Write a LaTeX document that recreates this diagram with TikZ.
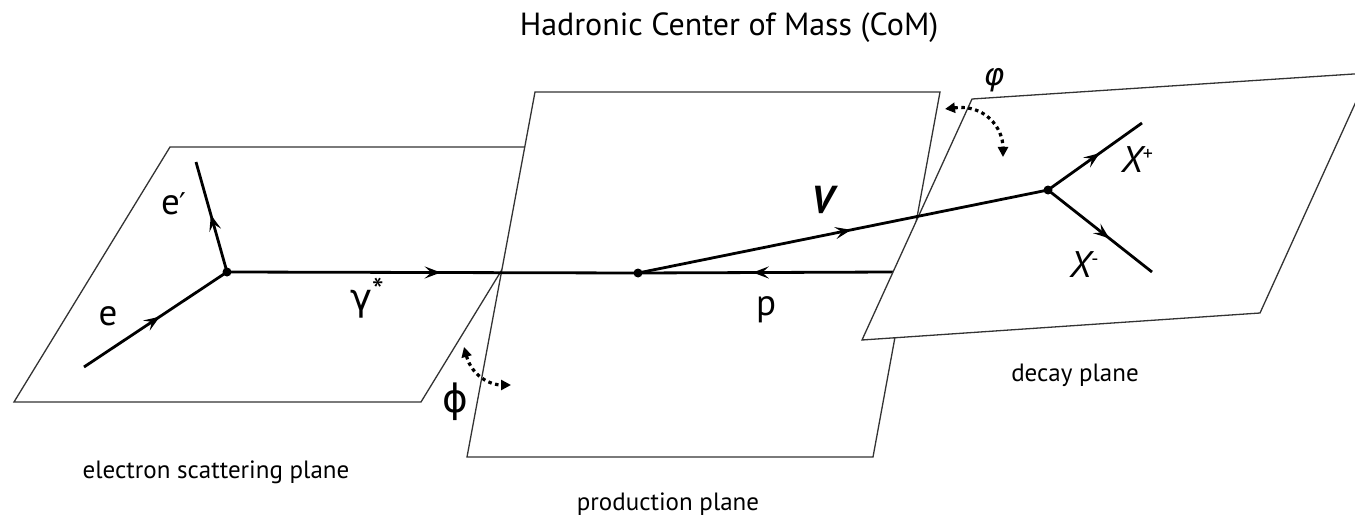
\documentclass[tikz,border=0pt]{standalone}
\usepackage{fontspec}
\setmainfont{PT Sans}
\newfontfamily\grk{DejaVu Sans}
\usetikzlibrary{arrows.meta,decorations.markings}
\tikzset{
  plane/.style={draw=black!80, line width=1.3pt, fill=white, line join=miter},
  particle/.style={line width=2.8pt},
  midarrow/.style={postaction={decorate}, decoration={markings, mark=at position #1 with {\arrow{Stealth[length=16pt,width=12pt,inset=6.5pt]}}}},
  vdot/.style={circle, fill=black, inner sep=0pt, minimum size=9pt},
  lbl/.style={font=\fontsize{37}{40}\selectfont, inner sep=0pt},
  capt/.style={font=\fontsize{25}{30}\selectfont, inner sep=0pt},
  ttl/.style={font=\fontsize{32}{36}\selectfont, inner sep=0pt},
  dotarrow/.style={line width=3.2pt, dash pattern=on 3.5pt off 3.5pt, {Triangle[length=10pt,width=10pt]}-{Triangle[length=10pt,width=10pt]}},
}
\begin{document}
\begin{tikzpicture}[x=1pt,y=-1pt]
\useasboundingbox (0,0) rectangle (1355,516);
\clip (0,0) rectangle (1355,516);
% planes
\draw[plane] (170,147) -- (577,147) -- (421,402) -- (14,402) -- cycle;
\draw[plane] (535,92) -- (940,92) -- (873,457) -- (467,457) -- cycle;
% vertices
\coordinate (ev) at (227,272);
\coordinate (pv) at (638,273);
\coordinate (dv) at (1048,190);
\coordinate (pstart) at (893,272);
\draw[particle, midarrow=0.55] (pstart) -- (pv);
\draw[plane] (972,99) -- (1369,73) -- (1260,313) -- (862,340) -- cycle;
\coordinate (ein) at (84,367);
\coordinate (eout) at (196,162);
\coordinate (xp) at (1142,123);
\coordinate (xm) at (1152,272);
\draw[particle, midarrow=0.53] (ein) -- (ev);
\draw[particle, midarrow=0.52] (ev) -- (eout);
\draw[particle, midarrow=0.52] (ev) -- (pv);
\draw[particle, midarrow=0.52] (pv) -- (dv);
\draw[particle, midarrow=0.55] (dv) -- (xp);
\draw[particle, midarrow=0.59] (dv) -- (xm);
\node[vdot] (evd) at (ev) {};
\node[vdot] (pvd) at (pv) {};
\node[vdot] (dvd) at (dv) {};
% dotted angle arrows
\coordinate (phiA) at (464,347);
\coordinate (phiB) at (511,385);
\draw[dotarrow] (phiA) .. controls (472,376) and (490,385) .. (phiB);
\coordinate (vphA) at (945,109);
\coordinate (vphB) at (1003,157);
\draw[dotarrow] (vphA) .. controls (985,104) and (1003,128) .. (vphB);
% labels
\node[ttl] (title) at (729,28) {Hadronic Center of Mass (CoM)};
\node[lbl] (le) at (108,316) {e};
\node[lbl] (leprime) at (174,204) {e{\grk\fontsize{30}{34}\selectfont ′}};
\node[lbl] (lgam) at (367,298) {{\grk γ}\raisebox{8pt}{\fontsize{34}{36}\selectfont *}};
\node[lbl, font=\fontsize{39}{42}\selectfont] (lPhi) at (455,402) {{\grk ϕ}};
\node[lbl] (lp) at (766,310) {p};
\node[lbl, font=\fontsize{39}{42}\selectfont\bfseries\itshape] (lV) at (823,200) {V};
\node[lbl, font=\fontsize{31}{34}\selectfont] (lvphi) at (994,80) {{\grk\itshape φ}};
\node[lbl] (lxp) at (1137,160) {\itshape X\raisebox{12pt}{\upshape\fontsize{20}{24}\selectfont +}};
\node[lbl] (lxm) at (1084,265) {\itshape X\raisebox{12pt}{\upshape\fontsize{20}{24}\selectfont -}};
\node[capt] (cel) at (216,472) {electron scattering plane};
\node[capt] (cpr) at (668,504) {production plane};
\node[capt] (cde) at (1075,375) {decay plane};
\end{tikzpicture}
\end{document}
